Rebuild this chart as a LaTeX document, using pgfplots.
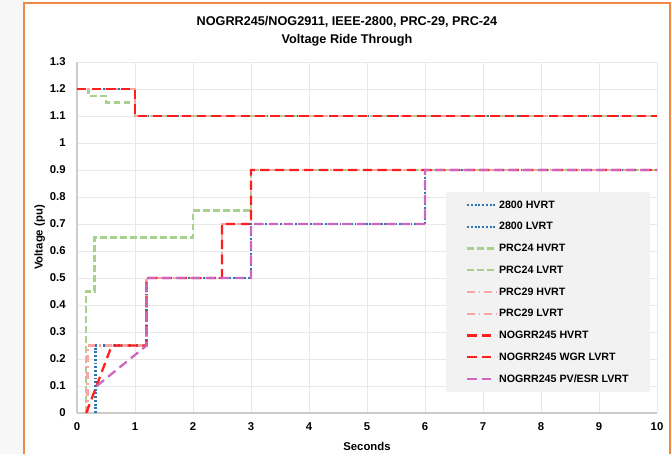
\documentclass[border=0pt]{standalone}
\usepackage{pgfplots}
\pgfplotsset{compat=1.18}
\usepackage{fontspec}
\setmainfont{Liberation Sans}
\definecolor{cblue}{RGB}{46,117,182}
\definecolor{cgreen}{RGB}{169,209,142}
\definecolor{cpink}{RGB}{250,165,165}
\definecolor{cred}{RGB}{255,30,30}
\definecolor{cpurple}{RGB}{204,102,190}
\definecolor{corange}{RGB}{240,135,70}
\definecolor{legbg}{RGB}{242,242,242}
\definecolor{gridc}{RGB}{232,232,232}
\begin{document}
\begin{tikzpicture}
\path[use as bounding box] (0,0) rectangle (503.25pt,340.5pt);
\fill[black!3] (0,0) rectangle (18pt,340.5pt);
\draw[corange, line width=1.5pt] (18pt,0) -- (18pt,338.25pt) -- (502.5pt,338.25pt) -- (502.5pt,0);
\node[align=center, font=\bfseries\fontsize{9.5}{13.5}\selectfont] at (260.25pt,317.25pt)
  {NOGRR245/NOG2911, IEEE-2800, PRC-29, PRC-24\\Voltage Ride Through};
\begin{axis}[
    at={(57.75pt,30.75pt)}, anchor=south west,
    width=435pt, height=263.25pt, scale only axis,
    xmin=0, xmax=10, ymin=0, ymax=1.3,
    xtick={0,1,...,10},
    ytick={0,0.1,...,1.3},
    grid=major,
    grid style={gridc, line width=0.6pt},
    axis line style={black!20, line width=0.8pt},
    axis x line*=bottom, axis y line*=left,
    major tick length=0pt,
    tick label style={font=\bfseries\fontsize{8.5}{10}\selectfont},
    /pgf/number format/assume math mode=true,
    yticklabel style={/pgf/number format/fixed, /pgf/number format/precision=1, xshift=-5pt},
    xticklabel style={yshift=-4pt},
    xlabel={\bfseries Seconds},
    ylabel={\bfseries Voltage (pu)},
    label style={font=\bfseries\fontsize{8.5}{10}\selectfont},
    xlabel style={at={(0.5,0)}, anchor=center, yshift=-25pt},
    ylabel style={at={(0,0.5)}, anchor=center, yshift=28pt},
    legend cell align=left,
    legend style={at={(0.636,0.63)}, anchor=north west, draw=none, fill=legbg,
        font=\bfseries\fontsize{8}{9}\selectfont, inner xsep=15pt, inner ysep=5pt,
        row sep=6.8pt,
        nodes={inner sep=1pt, text height=6pt, text depth=1.5pt}},
    legend image code/.code={\draw[#1] (0pt,0pt) -- (22pt,0pt);},
    every axis plot/.append style={line width=1.7pt, line join=miter},
]
\addplot[cblue, dash pattern=on 1.4pt off 1.4pt] coordinates {
    (0,1.2) (1,1.2) (1,1.1) (10,1.1)};
\addlegendentry{2800 HVRT}
\addplot[cblue, dash pattern=on 1.4pt off 1.4pt] coordinates {
    (0.32,0) (0.32,0.25) (1.2,0.25) (1.2,0.5) (3,0.5) (3,0.7) (6,0.7) (6,0.9) (10,0.9)};
\addlegendentry{2800 LVRT}
\addplot[cgreen, dash pattern=on 5pt off 2.5pt] coordinates {
    (0,1.2) (0.2,1.2) (0.2,1.175) (0.5,1.175) (0.5,1.15) (1,1.15) (1,1.1) (10,1.1)};
\addlegendentry{PRC24 HVRT}
\addplot[cgreen, dash pattern=on 5pt off 2.5pt] coordinates {
    (0.15,0) (0.15,0.45) (0.3,0.45) (0.3,0.65) (2,0.65) (2,0.75) (3,0.75) (3,0.9) (10,0.9)};
\addlegendentry{PRC24 LVRT}
\addplot[cpink, dash pattern=on 5.5pt off 3pt on 1.2pt off 3pt] coordinates {
    (0,1.2) (1,1.2) (1,1.1) (10,1.1)};
\addlegendentry{PRC29 HVRT}
\addplot[cpink, dash pattern=on 5.5pt off 3pt on 1.2pt off 3pt] coordinates {
    (0.18,0) (0.18,0.25) (1.2,0.25) (1.2,0.5) (2.5,0.5) (2.5,0.7) (3,0.7) (3,0.9) (10,0.9)};
\addlegendentry{PRC29 LVRT}
\addplot[cred, dash pattern=on 7pt off 4pt] coordinates {
    (0,1.2) (1,1.2) (1,1.1) (10,1.1)};
\addlegendentry{NOGRR245 HVRT}
\addplot[cred, dash pattern=on 7pt off 4pt] coordinates {
    (0.16,0) (0.6,0.25) (1.2,0.25) (1.2,0.5) (2.5,0.5) (2.5,0.7) (3,0.7) (3,0.9) (10,0.9)};
\addlegendentry{NOGRR245 WGR LVRT}
\addplot[cpurple, dash pattern=on 7pt off 4pt] coordinates {
    (0.34,0.1) (1.2,0.25) (1.2,0.5) (3,0.5) (3,0.7) (6,0.7) (6,0.9) (10,0.9)};
\addlegendentry{NOGRR245 PV/ESR LVRT}
\end{axis}
\end{tikzpicture}
\end{document}
